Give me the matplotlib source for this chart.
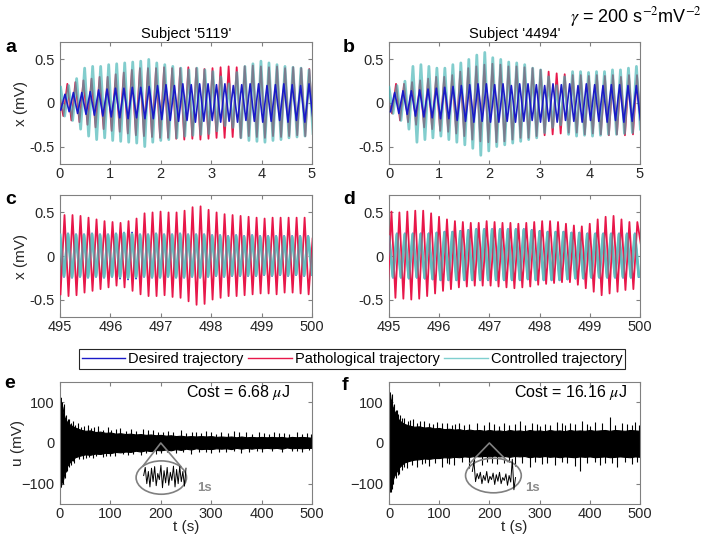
import numpy as np
import matplotlib
matplotlib.use("Agg")
import matplotlib.pyplot as plt
from matplotlib.patches import Ellipse
from matplotlib.lines import Line2D

plt.rcParams["font.family"] = ["Liberation Sans", "DejaVu Sans"]
plt.rcParams["mathtext.fontset"] = "stix"

# ---- oscillation extrema (alternating peak / trough, mV) ----
# panel a: subject 5119, t = 0..5 s
des_a = [-0.08, 0.1, -0.1, 0.12, -0.12, 0.12, -0.13, 0.13, -0.14, 0.15,
         -0.15, 0.16, -0.16, 0.17, -0.17, 0.17, -0.18, 0.18, -0.17, 0.18,
         -0.18, 0.19, -0.18, 0.2, -0.19, 0.21, -0.2, 0.2, -0.21, 0.22,
         -0.2, 0.21, -0.22, 0.22, -0.21, 0.22, -0.2, 0.21, -0.22, 0.22,
         -0.21, 0.2, -0.22, 0.21, -0.2, 0.22, -0.21, 0.22, -0.22, 0.2,
         -0.21, 0.21, -0.2, 0.22, -0.22, 0.21, -0.2, 0.2, -0.22, 0.22,
         -0.21, 0.2]
pat_a = [0.1, -0.15, 0.22, -0.2, 0.24, -0.22, 0.26, -0.25, 0.28, -0.28,
         0.3, -0.3, 0.3, -0.32, 0.33, -0.33, 0.35, -0.35, 0.38, -0.37,
         0.4, -0.38, 0.4, -0.39, 0.4, -0.4, 0.41, -0.4, 0.4, -0.41,
         0.4, -0.42, 0.41, -0.41, 0.4, -0.42, 0.39, -0.41, 0.4, -0.4,
         0.41, -0.4, 0.42, -0.39, 0.41, -0.4, 0.42, -0.38, 0.43, -0.39,
         0.42, -0.4, 0.41, -0.38, 0.42, -0.39, 0.4, -0.38, 0.41, -0.37,
         0.4, -0.38, 0.39, -0.3]
ctl_a = [0.18, -0.15, 0.2, -0.2, 0.28, -0.3, 0.4, -0.38, 0.42, -0.42,
         0.42, -0.4, 0.44, -0.43, 0.45, -0.44, 0.46, -0.45, 0.47, -0.46,
         0.48, -0.5, 0.5, -0.45, 0.46, -0.43, 0.44, -0.42, 0.42, -0.4,
         0.4, -0.38, 0.38, -0.37, 0.4, -0.36, 0.38, -0.35, 0.36, -0.32,
         0.3, -0.26, 0.22, -0.28, 0.35, -0.4, 0.42, -0.43, 0.45, -0.44,
         0.48, -0.45, 0.46, -0.43, 0.44, -0.42, 0.42, -0.4, 0.41, -0.39,
         0.4, -0.38, 0.38, -0.35]

# panel b: subject 4494, t = 0..5 s
des_b = [-0.1, 0.12, -0.12, 0.14, -0.13, 0.14, -0.15, 0.15, -0.16, 0.16,
         -0.17, 0.17, -0.18, 0.18, -0.18, 0.19, -0.2, 0.2, -0.21, 0.21,
         -0.22, 0.22, -0.21, 0.22, -0.22, 0.21, -0.22, 0.22, -0.21, 0.2,
         -0.22, 0.22, -0.21, 0.22, -0.2, 0.21, -0.22, 0.2, -0.21, 0.22,
         -0.22, 0.21, -0.2, 0.22, -0.21, 0.2, -0.22, 0.22, -0.2, 0.21,
         -0.21, 0.2, -0.22, 0.21, -0.2, 0.21, -0.22, 0.2, -0.21, 0.2,
         -0.2, 0.18]
pat_b = [0.05, -0.12, 0.22, -0.2, 0.22, -0.22, 0.24, -0.25, 0.26, -0.28,
         0.28, -0.3, 0.3, -0.32, 0.3, -0.33, 0.32, -0.35, 0.36, -0.38,
         0.4, -0.42, 0.42, -0.44, 0.44, -0.45, 0.45, -0.45, 0.44, -0.44,
         0.42, -0.42, 0.42, -0.4, 0.41, -0.4, 0.4, -0.38, 0.38, -0.37,
         0.36, -0.36, 0.34, -0.35, 0.33, -0.34, 0.32, -0.34, 0.32, -0.36,
         0.31, -0.35, 0.32, -0.36, 0.31, -0.37, 0.32, -0.36, 0.3, -0.37,
         0.32, -0.36, 0.32, -0.3]
ctl_b = [0.18, -0.12, 0.2, -0.2, 0.25, -0.3, 0.42, -0.45, 0.44, -0.42,
         0.42, -0.4, 0.4, -0.38, 0.4, -0.42, 0.44, -0.45, 0.46, -0.48,
         0.5, -0.52, 0.55, -0.6, 0.58, -0.55, 0.52, -0.5, 0.5, -0.48,
         0.47, -0.46, 0.46, -0.44, 0.44, -0.42, 0.4, -0.4, 0.38, -0.34,
         0.3, -0.28, 0.2, -0.25, 0.3, -0.36, 0.36, -0.38, 0.36, -0.37,
         0.35, -0.38, 0.36, -0.37, 0.36, -0.36, 0.38, -0.36, 0.38, -0.35,
         0.4, -0.34, 0.42, -0.3]

# panel c: subject 5119, t = 495..500 s
des_c = [0.25, -0.24, 0.26, -0.25, 0.25, -0.24, 0.25, -0.25, 0.26, -0.24,
         0.25, -0.25, 0.25, -0.24, 0.26, -0.26, 0.27, -0.27, 0.27, -0.26,
         0.25, -0.24, 0.25, -0.25, 0.26, -0.25, 0.25, -0.24, 0.25, -0.25,
         0.26, -0.25, 0.25, -0.24, 0.25, -0.25, 0.25, -0.24, 0.24, -0.23,
         0.24, -0.24, 0.23, -0.23, 0.24, -0.23, 0.23, -0.23, 0.24, -0.23,
         0.23, -0.22, 0.23, -0.23, 0.23, -0.22, 0.23, -0.23, 0.23, -0.22,
         0.23, -0.23, 0.23, -0.22]
pat_c = [-0.44, 0.47, -0.46, 0.47, -0.45, 0.46, -0.42, 0.44, -0.4, 0.42,
         -0.38, 0.4, -0.36, 0.39, -0.34, 0.38, -0.36, 0.4, -0.4, 0.43,
         -0.44, 0.49, -0.46, 0.5, -0.46, 0.51, -0.45, 0.5, -0.47, 0.5,
         -0.48, 0.52, -0.52, 0.56, -0.56, 0.57, -0.55, 0.53, -0.5, 0.5,
         -0.48, 0.48, -0.46, 0.47, -0.46, 0.46, -0.45, 0.45, -0.44, 0.44,
         -0.43, 0.43, -0.43, 0.44, -0.44, 0.44, -0.42, 0.44, -0.42, 0.44,
         -0.43, 0.44, -0.44, 0.2]
ctl_c = [0.24, -0.23, 0.25, -0.24, 0.24, -0.23, 0.24, -0.24, 0.25, -0.23,
         0.24, -0.24, 0.24, -0.23, 0.25, -0.24, 0.26, -0.25, 0.25, -0.24,
         0.24, -0.23, 0.24, -0.24, 0.25, -0.24, 0.24, -0.23, 0.24, -0.24,
         0.25, -0.24, 0.24, -0.23, 0.24, -0.24, 0.24, -0.23, 0.23, -0.22,
         0.23, -0.23, 0.22, -0.22, 0.23, -0.22, 0.22, -0.22, 0.23, -0.22,
         0.22, -0.21, 0.22, -0.22, 0.22, -0.21, 0.22, -0.22, 0.22, -0.21,
         0.22, -0.22, 0.22, -0.21]

# panel d: subject 4494, t = 495..500 s
des_d = [0.23, -0.25, 0.26, -0.25, 0.26, -0.26, 0.26, -0.25, 0.26, -0.26,
         0.26, -0.27, 0.27, -0.28, 0.28, -0.28, 0.28, -0.28, 0.29, -0.28,
         0.3, -0.28, 0.31, -0.28, 0.31, -0.28, 0.31, -0.28, 0.31, -0.28,
         0.31, -0.28, 0.31, -0.28, 0.31, -0.27, 0.3, -0.28, 0.29, -0.28,
         0.28, -0.28, 0.28, -0.28, 0.28, -0.27, 0.27, -0.26, 0.27, -0.26,
         0.26, -0.25, 0.26, -0.25, 0.26, -0.25, 0.26, -0.25, 0.26, -0.25,
         0.26, -0.25, 0.26, -0.24]
pat_d = [-0.45, 0.51, -0.48, 0.5, -0.49, 0.51, -0.5, 0.52, -0.49, 0.52,
         -0.46, 0.49, -0.43, 0.45, -0.4, 0.42, -0.38, 0.4, -0.36, 0.39,
         -0.35, 0.38, -0.34, 0.38, -0.34, 0.4, -0.34, 0.39, -0.35, 0.38,
         -0.36, 0.38, -0.37, 0.37, -0.36, 0.38, -0.35, 0.39, -0.33, 0.4,
         -0.32, 0.4, -0.31, 0.39, -0.3, 0.37, -0.3, 0.35, -0.33, 0.34,
         -0.37, 0.37, -0.41, 0.42, -0.45, 0.45, -0.43, 0.46, -0.41, 0.42,
         -0.39, 0.39, -0.38, 0.39, 0.1]
ctl_d = [0.22, -0.24, 0.25, -0.24, 0.25, -0.25, 0.25, -0.24, 0.25, -0.25,
         0.25, -0.26, 0.26, -0.27, 0.27, -0.27, 0.27, -0.27, 0.28, -0.27,
         0.29, -0.27, 0.3, -0.27, 0.3, -0.27, 0.3, -0.27, 0.3, -0.27,
         0.3, -0.27, 0.3, -0.27, 0.3, -0.26, 0.29, -0.27, 0.28, -0.27,
         0.27, -0.27, 0.27, -0.27, 0.27, -0.26, 0.26, -0.25, 0.26, -0.25,
         0.25, -0.24, 0.25, -0.24, 0.25, -0.24, 0.25, -0.24, 0.25, -0.24,
         0.25, -0.24, 0.25, -0.23]

# start time and half period (s) of each trace
timing = {
    "des_a": (0.015, 0.0835), "pat_a": (-0.014, 0.08), "ctl_a": (0.012, 0.0795),
    "des_b": (0.03, 0.083), "pat_b": (-0.02, 0.08), "ctl_b": (0.0, 0.0795),
    "des_c": (495.0, 0.0794), "pat_c": (495.01, 0.0794), "ctl_c": (495.0, 0.0794),
    "des_d": (495.0, 0.079), "pat_d": (494.97, 0.079), "ctl_d": (495.0, 0.079),
}

# ---- control signal u(t): envelope of the dense band (mV) ----
t_env = [0, 1, 2, 3, 5, 7, 10, 15] + list(range(20, 501, 10))
up_e = [105, 112, 100, 95, 88, 72, 60, 50,
        45, 38, 33, 30, 31, 27, 28, 25, 26, 23,
        24, 22, 23, 21, 22, 20, 21, 19, 20, 18,
        19, 17, 18, 16, 17, 16, 17, 16, 17, 15,
        16, 15, 16, 14, 16, 14, 15, 14, 15, 14,
        15, 14, 15, 13, 15, 14, 15, 14, 13]
lo_e = [-100, -108, -104, -98, -95, -85, -65, -55,
        -46, -35, -31, -28, -29, -26, -27, -24, -25, -22,
        -23, -21, -22, -19, -21, -18, -20, -17, -18, -16,
        -18, -15, -17, -14, -16, -13, -15, -14, -15, -13,
        -14, -13, -15, -12, -14, -12, -14, -12, -13, -12,
        -13, -12, -14, -11, -13, -12, -13, -12, -12]
up_f = [118, 125, 120, 110, 100, 90, 80, 68,
        56, 47, 43, 40, 41, 38, 39, 36, 37, 34,
        35, 33, 34, 31, 33, 31, 32, 30, 32, 30,
        31, 29, 32, 30, 31, 29, 32, 30, 31, 29,
        32, 30, 31, 29, 32, 30, 31, 30, 32, 30,
        31, 32, 30, 32, 31, 30, 32, 31, 30]
lo_f = [-110, -120, -118, -110, -100, -92, -82, -70,
        -60, -48, -44, -41, -40, -38, -39, -37, -37, -35,
        -36, -34, -35, -33, -34, -32, -33, -32, -33, -31,
        -33, -32, -34, -32, -33, -32, -35, -33, -34, -32,
        -34, -33, -35, -33, -34, -35, -33, -34, -33, -35,
        -34, -33, -35, -34, -33, -34, -35, -33, -34]

# spikes poking out of the band (time s, value mV)
spk_e_t = [8, 12, 18, 25, 35, 55, 75, 95, 120, 140, 165, 185, 215, 240, 270,
           290, 320, 345, 370, 395, 425, 445, 470, 490,
           4, 16, 22, 30, 42, 48, 62, 68, 85, 102, 112, 130, 150, 175, 195, 205,
           225, 250, 262, 280, 300, 310, 333, 355, 380, 405, 415, 435, 455, 480, 498,
           6, 9, 14, 22, 28, 45, 65, 85, 110, 135, 160, 190, 230, 260, 300,
           330, 360, 400, 440, 480,
           11, 17, 26, 38, 52, 58, 72, 92, 100, 125, 145, 170, 200, 212, 245, 275,
           290, 315, 345, 375, 390, 420, 460, 470, 495]
spk_e_v = [95, 70, 60, 55, 48, 45, 42, 40, 38, 35, 34, 32, 30, 31, 28,
           30, 27, 29, 26, 27, 26, 25, 27, 24,
           100, 58, 50, 44, 40, 42, 36, 39, 33, 31, 35, 30, 29, 31, 27, 26,
           27, 25, 28, 24, 26, 23, 25, 26, 23, 24, 22, 25, 23, 22, 21,
           -100, -85, -70, -55, -48, -40, -38, -35, -33, -30, -29, -27, -25, -26, -24,
           -23, -24, -22, -23, -22,
           -72, -58, -45, -40, -36, -34, -33, -31, -32, -28, -27, -25, -24, -23, -22, -22,
           -21, -22, -20, -21, -19, -20, -19, -20, -18]
spk_f_t = [5, 10, 15, 22, 30, 48, 70, 95, 115, 140, 175, 200, 230, 260, 285,
           310, 335, 360, 385, 410, 440, 465, 490,
           13, 18, 26, 38, 42, 55, 62, 80, 88, 105, 125, 132, 150, 160, 190, 210,
           220, 240, 250, 270, 295, 300, 320, 345, 350, 370, 395, 400, 425, 450, 475, 485, 498,
           3, 8, 13, 20, 35, 55, 80, 105, 130, 160, 185, 215, 250, 280, 305,
           330, 370, 380, 420, 455, 485,
           6, 17, 25, 30, 45, 65, 72, 92, 115, 120, 145, 170, 195, 205, 230, 240,
           265, 290, 315, 345, 355, 395, 410, 430, 445, 470, 495]
spk_f_v = [120, 95, 80, 70, 62, 58, 55, 52, 50, 48, 50, 52, 48, 55, 50,
           47, 52, 50, 55, 52, 65, 50, 52,
           82, 72, 62, 55, 57, 50, 53, 48, 47, 49, 45, 47, 44, 46, 45, 47,
           43, 45, 46, 44, 47, 43, 45, 48, 44, 46, 47, 43, 48, 45, 46, 44, 45,
           -120, -100, -85, -75, -62, -60, -57, -58, -55, -62, -55, -52, -56, -58, -52,
           -55, -57, -68, -55, -60, -52,
           -112, -78, -66, -60, -55, -52, -50, -49, -48, -51, -47, -50, -46, -48, -49, -47,
           -50, -46, -48, -47, -50, -49, -46, -48, -50, -47, -46]

# 1 s zoom shown inside the ellipse (mV)
ins_e = [-80, -60, -100, -70, -108, -62, -95, -58, -105, -75, -90, -55, -110, -68,
         -98, -60, -104, -72, -92, -57, -108, -65, -100, -58, -95, -70, -106, -62]
ins_f = [-70, -45, -95, -75, -88, -72, -100, -80, -92, -70, -98, -82, -90, -74,
         -102, -78, -94, -72, -100, -85, -92, -76, -104, -80, -96, -40, -115, -85]

costs = ["6.68", "16.16"]
subjects = ["5119", "4494"]

c_des = "#1a1ac8"
c_pat = "#e8174a"
c_ctl = "#3fb3b3"
c_ctl_solid = "#8ed0d0"
spine_c = "0.5"


def wave(ax, name, vals, color, lw, alpha=1.0, z=2):
    t0, hp = timing[name]
    t = t0 + hp * np.arange(len(vals))
    ax.plot(t, vals, color=color, lw=lw, alpha=alpha, zorder=z,
            solid_joinstyle="round")


def style(ax):
    for s in ax.spines.values():
        s.set_color(spine_c)
        s.set_linewidth(0.8)
    ax.tick_params(direction="in", top=True, right=True, length=3,
                   color=spine_c, labelcolor="0.15", labelsize=10.5)
    ax.tick_params(axis="x", pad=2)
    ax.tick_params(axis="y", pad=4)


fig = plt.figure(figsize=(7.04, 5.44), dpi=100)
W, H = 704, 544


def axes_px(left, top, right, bottom):
    return fig.add_axes([left / W, 1 - bottom / H, (right - left) / W, (bottom - top) / H])


lefts = [(60, 312), (389, 640)]
rows = [(42, 164), (195, 317), (382, 504)]

ax_a = axes_px(lefts[0][0], rows[0][0], lefts[0][1], rows[0][1])
ax_b = axes_px(lefts[1][0], rows[0][0], lefts[1][1], rows[0][1])
ax_c = axes_px(lefts[0][0], rows[1][0], lefts[0][1], rows[1][1])
ax_d = axes_px(lefts[1][0], rows[1][0], lefts[1][1], rows[1][1])
ax_e = axes_px(lefts[0][0], rows[2][0], lefts[0][1], rows[2][1])
ax_f = axes_px(lefts[1][0], rows[2][0], lefts[1][1], rows[2][1])

data = {"des_a": des_a, "pat_a": pat_a, "ctl_a": ctl_a,
        "des_b": des_b, "pat_b": pat_b, "ctl_b": ctl_b,
        "des_c": des_c, "pat_c": pat_c, "ctl_c": ctl_c,
        "des_d": des_d, "pat_d": pat_d, "ctl_d": ctl_d}

# first 5 s: desired line stays visible on top
for ax, key in [(ax_a, "a"), (ax_b, "b")]:
    wave(ax, "pat_" + key, data["pat_" + key], c_pat, 1.3, z=2)
    wave(ax, "ctl_" + key, data["ctl_" + key], c_ctl, 2.0, alpha=0.65, z=3)
    wave(ax, "des_" + key, data["des_" + key], c_des, 1.2, z=4)

# last 5 s: controlled trace sits on the desired one
for ax, key in [(ax_c, "c"), (ax_d, "d")]:
    wave(ax, "des_" + key, data["des_" + key], c_des, 1.2, z=2)
    wave(ax, "ctl_" + key, data["ctl_" + key], c_ctl_solid, 2.0, z=3)
    wave(ax, "pat_" + key, data["pat_" + key], c_pat, 1.3, z=4)
    wave(ax, "ctl_" + key, data["ctl_" + key], c_ctl, 2.0, alpha=0.55, z=5)

for ax in (ax_a, ax_b, ax_c, ax_d):
    ax.set_ylim(-0.7, 0.7)
    ax.set_yticks([-0.5, 0, 0.5])
    ax.set_yticklabels(["-0.5", "0", "0.5"])
    style(ax)

for ax in (ax_a, ax_b):
    ax.set_xlim(0, 5)
    ax.set_xticks(range(0, 6))
for ax in (ax_c, ax_d):
    ax.set_xlim(495, 500)
    ax.set_xticks(range(495, 501))

ax_a.set_title("Subject '%s'" % subjects[0], fontsize=10.5, pad=3)
ax_b.set_title("Subject '%s'" % subjects[1], fontsize=10.5, pad=3)
for ax in (ax_a, ax_c):
    ax.set_ylabel("x (mV)", fontsize=11, color="0.15")
    ax.yaxis.set_label_coords(-0.128, 0.5)

# control panels
panels = [(ax_e, up_e, lo_e, spk_e_t, spk_e_v, ins_e, costs[0],
           (201, -85, 100, 82), (165, -56, 240, -58), (166, 250)),
          (ax_f, up_f, lo_f, spk_f_t, spk_f_v, ins_f, costs[1],
           (208, -80, 111, 85), (161, -50, 237, -46), (166, 252))]
for ax, up, lo, st, sv, ins, cost, ell, tri, span in panels:
    ax.fill_between(t_env, lo, up, color="k", lw=0.8, edgecolor="k", zorder=2)
    ax.vlines(st, 0, sv, color="k", lw=0.8, zorder=2)
    ax.add_patch(Ellipse((ell[0], ell[1]), ell[2], ell[3], fc="none",
                         ec="0.5", lw=1.2, zorder=3))
    ax.plot([tri[0], 200, tri[2]], [tri[1], 0, tri[3]], color="0.5", lw=1.2, zorder=3)
    ax.plot(np.linspace(span[0], span[1], len(ins)), ins, color="k", lw=0.7, zorder=4)
    ax.text(250, 124, "Cost = %s $\\mu$J" % cost, fontsize=11.5, va="center",
            ha="left", color="k")
    ax.text(272, -110, "1s", fontsize=9.5, fontweight="bold", color="0.55",
            va="center", ha="left")
    ax.set_xlim(0, 500)
    ax.set_ylim(-150, 150)
    ax.set_xticks(range(0, 501, 100))
    ax.set_yticks([-100, 0, 100])
    style(ax)
    ax.set_xlabel("t (s)", fontsize=11, color="0.15")
    ax.xaxis.set_label_coords(0.5, -0.135)

ax_e.set_ylabel("u (mV)", fontsize=11, color="0.15")
ax_e.yaxis.set_label_coords(-0.14, 0.5)

# panel letters
for lab, x, y in [("a", 5, 47), ("b", 343, 47), ("c", 5, 200),
                  ("d", 343, 200), ("e", 4, 383), ("f", 342, 385)]:
    fig.text(x / W, 1 - y / H, lab, fontsize=14, fontweight="bold",
             va="center", ha="left")

fig.text(0.997, 1 - 17 / H, r"$\gamma$ = 200 s$^{-2}$mV$^{-2}$", fontsize=13,
         ha="right", va="center")

handles = [Line2D([], [], color=c_des, lw=1.0),
           Line2D([], [], color=c_pat, lw=1.0),
           Line2D([], [], color="#7fcfcf", lw=1.0)]
leg = fig.legend(handles, ["Desired trajectory", "Pathological trajectory",
                           "Controlled trajectory"],
                 loc="center", bbox_to_anchor=(0.5, 1 - 359 / H), ncol=3,
                 fontsize=10.5, handlelength=3.0, handletextpad=0.2,
                 columnspacing=0.3, fancybox=False, framealpha=1,
                 borderpad=0.2, borderaxespad=0)
leg.get_frame().set_edgecolor("0.15")
leg.get_frame().set_linewidth(0.8)

fig.savefig("out.png", dpi=100)
